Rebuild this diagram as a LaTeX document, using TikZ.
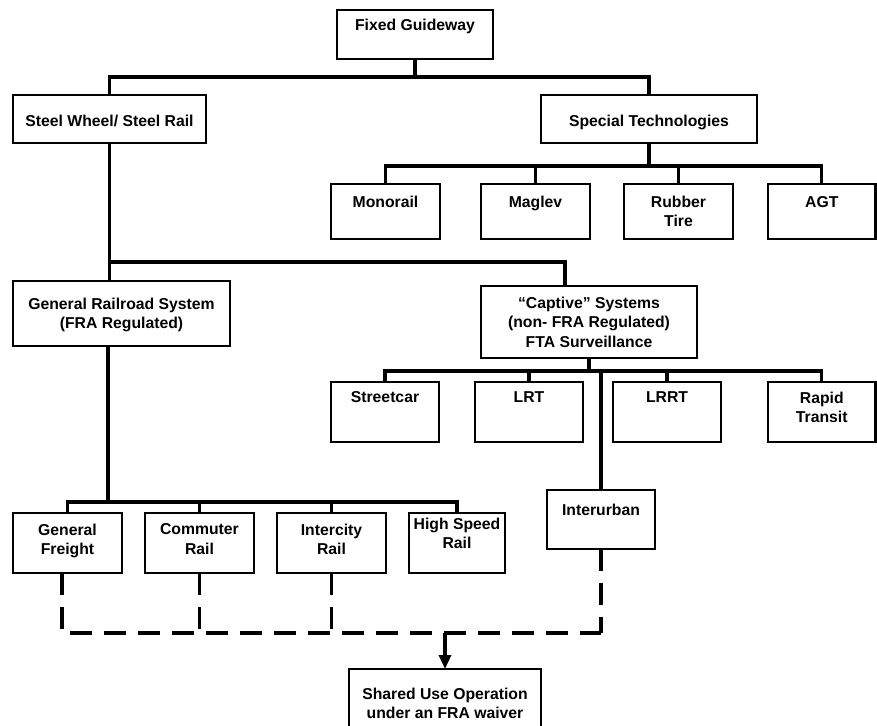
\documentclass[tikz,border=0pt]{standalone}
\usepackage{fontspec}
\setmainfont{Liberation Sans}
\usetikzlibrary{arrows.meta}
\tikzset{
  box/.style={draw, line width=2.2pt, inner sep=0pt, outer sep=0pt, anchor=north west},
  txt/.style={font=\fontsize{15.75}{19.3}\selectfont\bfseries, align=center, inner sep=0pt, anchor=north},
  conn/.style={line width=3.2pt},
  dconn/.style={line width=3.2pt, dash pattern=on 22pt off 12pt},
  arr/.style={line width=3.2pt, -{Triangle[width=12pt,length=14pt]}}
}
\begin{document}
\begin{tikzpicture}[x=1pt,y=-1pt]
\useasboundingbox (0,0) rectangle (877,725);
% boxes
\node[box, minimum width=156pt, minimum height=49pt] (fg) at (337,10) {};
\node[box, minimum width=193pt, minimum height=48pt] (sw) at (13,95) {};
\node[box, minimum width=216pt, minimum height=48pt] (st) at (541,95) {};
\node[box, minimum width=109pt, minimum height=55pt] (mono) at (331,184) {};
\node[box, minimum width=109pt, minimum height=55pt] (mag) at (481,184) {};
\node[box, minimum width=109pt, minimum height=55pt] (rt) at (624,184) {};
\node[box, minimum width=107.5pt, minimum height=55pt] (agt) at (768,184) {};
\node[box, minimum width=217pt, minimum height=65pt] (grs) at (13,281) {};
\node[box, minimum width=216pt, minimum height=72pt] (cap) at (481,286) {};
\node[box, minimum width=108pt, minimum height=60pt] (sc) at (331,382) {};
\node[box, minimum width=108pt, minimum height=60pt] (lrt) at (475,382) {};
\node[box, minimum width=108pt, minimum height=60pt] (lrrt) at (613,382) {};
\node[box, minimum width=107.5pt, minimum height=60pt] (rap) at (768,382) {};
\node[box, minimum width=108pt, minimum height=59pt] (inter) at (547,490) {};
\node[box, minimum width=109pt, minimum height=60pt] (gf) at (13,513) {};
\node[box, minimum width=109pt, minimum height=60pt] (cr) at (145,513) {};
\node[box, minimum width=109pt, minimum height=60pt] (ir) at (277,513) {};
\node[box, minimum width=96pt, minimum height=60pt] (hsr) at (409,513) {};
\node[box, minimum width=192pt, minimum height=67pt] (shared) at (349,669) {};
% texts
\node[txt] (fg-t) at ([yshift=-9pt]fg.north) {Fixed Guideway};
\node[txt] (sw-t) at ([yshift=-20pt]sw.north) {Steel Wheel/ Steel Rail};
\node[txt] (st-t) at ([yshift=-19.5pt]st.north) {Special Technologies};
\node[txt] (mono-t) at ([yshift=-12pt]mono.north) {Monorail};
\node[txt] (mag-t) at ([yshift=-12pt]mag.north) {Maglev};
\node[txt] (rt-t) at ([yshift=-12pt]rt.north) {Rubber\\Tire};
\node[txt] (agt-t) at ([yshift=-12pt]agt.north) {AGT};
\node[txt] (grs-t) at ([yshift=-16.5pt]grs.north) {General Railroad System\\(FRA Regulated)};
\node[txt] (cap-t) at ([yshift=-11pt]cap.north) {“Captive” Systems\\(non- FRA Regulated)\\FTA Surveillance};
\node[txt] (sc-t) at ([yshift=-9.7pt]sc.north) {Streetcar};
\node[txt] (lrt-t) at ([yshift=-9.7pt]lrt.north) {LRT};
\node[txt] (lrrt-t) at ([yshift=-9.7pt]lrrt.north) {LRRT};
\node[txt] (rap-t) at ([yshift=-9.7pt]rap.north) {Rapid\\Transit};
\node[txt] (inter-t) at ([yshift=-13.5pt]inter.north) {Interurban};
\node[txt] (gf-t) at ([yshift=-10.5pt]gf.north) {General\\Freight};
\node[txt] (cr-t) at ([yshift=-10.5pt]cr.north) {Commuter\\Rail};
\node[txt] (ir-t) at ([yshift=-10.5pt]ir.north) {Intercity\\Rail};
\node[txt] (hsr-t) at ([yshift=-4.7pt]hsr.north) {High Speed\\Rail};
\node[txt] (shared-t) at ([yshift=-18.7pt]shared.north) {Shared Use Operation\\under an FRA waiver};
% bus levels
\coordinate (L1) at (0,77);
\coordinate (L2) at (0,166);
\coordinate (L3) at (0,262);
\coordinate (L4) at (0,371);
\coordinate (L5) at (0,502);
\coordinate (L6) at (0,633);
\coordinate (capin) at ([xshift=-24pt]cap.north);
\coordinate (grsout) at ([xshift=-13.5pt]grs.south);
\coordinate (gfout) at ([xshift=-5.5pt]gf.south);
% solid connectors
\draw[conn] (fg.south) -- (fg.south |- L1);
\draw[conn] (sw.north) |- (st.north |- L1) -- (st.north);
\draw[conn] (st.south) -- (st.south |- L2);
\draw[conn] (mono.north) |- (agt.north |- L2) -- (agt.north);
\draw[conn] (mag.north) -- (mag.north |- L2);
\draw[conn] (rt.north) -- (rt.north |- L2);
\draw[conn] (sw.south) -- (sw.south |- grs.north);
\draw[conn] (sw.south |- L3) -| (capin);
\draw[conn] (cap.south) -- (cap.south |- L4);
\draw[conn] (sc.north) |- (rap.north |- L4) -- (rap.north);
\draw[conn] (lrt.north) -- (lrt.north |- L4);
\draw[conn] (lrrt.north) -- (lrrt.north |- L4);
\draw[conn] (inter.north |- L4) -- (inter.north);
\draw[conn] (grsout) -- (grsout |- L5);
\draw[conn] (gf.north) |- (hsr.north |- L5) -- (hsr.north);
\draw[conn] (cr.north) -- (cr.north |- L5);
\draw[conn] (ir.north) -- (ir.north |- L5);
% dashed connectors
\draw[dconn] (gfout) |- (inter.south |- L6);
\draw[dconn] (inter.south) -- (inter.south |- L6);
\draw[dconn] (cr.south) -- (cr.south |- L6);
\draw[dconn] (ir.south) -- (ir.south |- L6);
\draw[arr] (shared.north |- L6) -- (shared.north);
\end{tikzpicture}
\end{document}
